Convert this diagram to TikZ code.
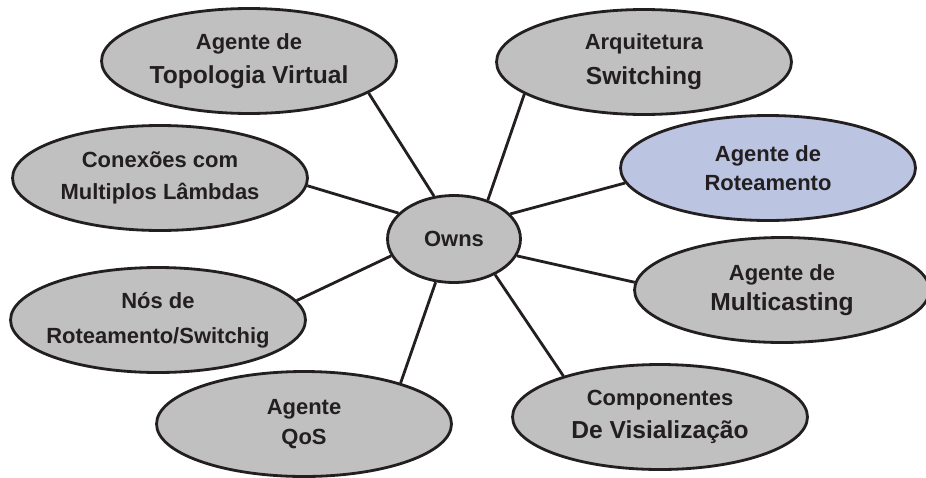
\documentclass[tikz,border=0pt]{standalone}
\usepackage{fontspec}
\setmainfont{Liberation Sans}
\usepackage{xcolor}
\usepackage{tikz}
\usetikzlibrary{shapes.geometric}

\definecolor{bubblegray}{RGB}{192,192,192}
\definecolor{bubbleblue}{RGB}{187,196,225}
\definecolor{inkdark}{RGB}{35,31,32}
\newcommand{\bigline}[1]{{\fontsize{14}{16}\selectfont #1}}

\begin{document}
\begin{tikzpicture}[x=0.02cm, y=-0.02cm,
    bubble/.style={ellipse, draw=inkdark, line width=1.6pt, fill=bubblegray,
      minimum width=5.9cm, minimum height=2.1cm, inner sep=0pt},
    lbl/.style={font=\bfseries\fontsize{12.5}{16}\selectfont, text=inkdark, align=center},
    link/.style={draw=inkdark, line width=1.6pt}]
  \useasboundingbox (0,0) rectangle (926,477);

  % ---- centre ----
  \node[bubble, minimum width=2.66cm, minimum height=1.74cm,
    label={[lbl]center:Owns}] (owns) at (454,239) {};

  % ---- left side ----
  \node[bubble, label={[lbl]center:{Agente de\\[3pt]\bigline{Topologia Virtual}}}] (topo) at (249,61) {};
  \node[bubble, label={[lbl]center:{Conexões com\\[2pt]Multiplos Lâmbdas}}] (conex) at (160,178) {};
  \node[bubble, label={[lbl]center:{Nós de\\[4pt]Roteamento/Switchig}}] (nos) at (158,320) {};
  \node[bubble, label={[lbl]center:{Agente\\[1.5pt]QoS}}] (qos) at (304,424) {};

  % ---- right side ----
  \node[bubble, label={[lbl]center:{Arquitetura\\[4pt]\bigline{Switching}}}] (arq) at (644,62) {};
  \node[bubble, fill=bubbleblue, label={[lbl]center:{Agente de\\[0.5pt]Roteamento}}] (rot) at (768,168) {};
  \node[bubble, label={[lbl]center:{Agente de\\[1pt]\bigline{Multicasting}}}] (mult) at (782,290) {};
  \node[bubble, label={[lbl]center:{Componentes\\[3pt]\bigline{De Visialização}}}] (comp) at (660,417) {};

  % Spokes from the centre
  \foreach \n/\a/\b in {topo/115.5/-15.7, arq/49.6/195.1, rot/24.1/186,
      mult/-15.7/177.2, comp/-41.5/157.2, qos/-113.4/23.6,
      nos/195.7/8, conex/155.1/-3.5} {
    \draw[link] (owns.\a) -- (\n.\b);
  }
\end{tikzpicture}
\end{document}
